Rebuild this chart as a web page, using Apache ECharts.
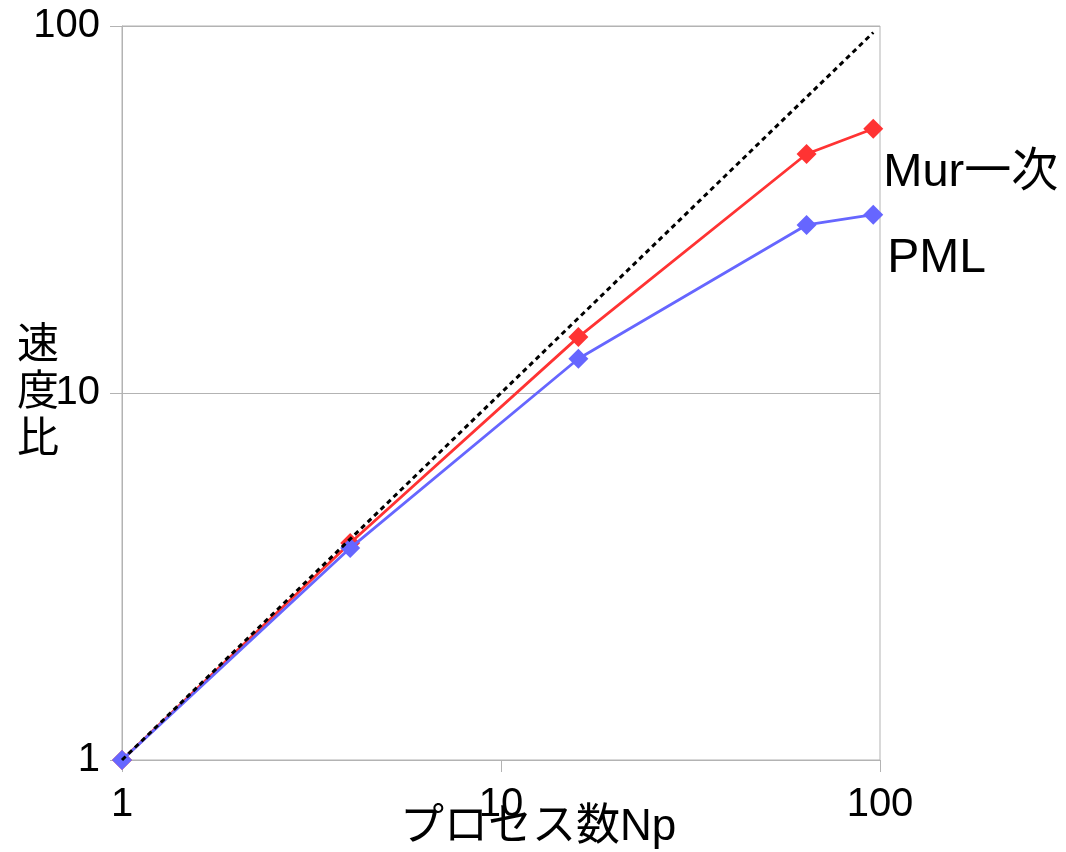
<!DOCTYPE html>
<html>
<head>
<meta charset="utf-8">
<script src="https://cdn.jsdelivr.net/npm/echarts@6/dist/echarts.min.js"></script>
<style>
  html, body { margin: 0; padding: 0; background: #fff; }
  #chart { width: 1066px; height: 852px; }
</style>
</head>
<body>
<div id="chart"></div>
<script>
// プロセス数と速度比
var procs = [1, 4, 16, 64, 96];
var murSpeedup = [1, 3.9, 14.2, 44.8, 52.5];
var pmlSpeedup = [1, 3.78, 12.4, 28.7, 30.6];
var idealX = [1, 96];
var idealY = [1, 96];

function pairs(xs, ys) {
    var out = [];
    xs.forEach(function (x, i) {
        out.push([x, ys[i]]);
    });
    return out;
}

var latin = '"Liberation Sans", Arial, sans-serif';
var cjk = '"Liberation Sans", "Noto Sans CJK JP", sans-serif';

var option = {
    animation: false,
    grid: {
        left: 122,
        right: 186,
        top: 26,
        bottom: 92,
        containLabel: false,
        outerBoundsMode: 'none',
        show: true,
        borderColor: '#b3b3b3',
        borderWidth: 1
    },
    xAxis: {
        type: 'log',
        logBase: 10,
        min: 1,
        max: 100,
        name: 'プロセス数Np',
        nameLocation: 'middle',
        nameMoveOverlap: false,
        nameGap: 46,
        nameTextStyle: {
            fontSize: 44,
            color: '#000',
            fontFamily: cjk,
            padding: [0, 0, 0, 74]
        },
        axisLine: {lineStyle: {color: '#b3b3b3'}},
        axisTick: {show: true, length: 12, lineStyle: {color: '#b3b3b3'}},
        axisLabel: {fontSize: 40, color: '#000', fontFamily: latin, margin: 25},
        splitLine: {show: false}
    },
    yAxis: {
        type: 'log',
        logBase: 10,
        min: 1,
        max: 100,
        name: '速\n度\n比',
        nameLocation: 'middle',
        nameMoveOverlap: false,
        nameRotate: 0,
        nameGap: 84,
        nameTextStyle: {
            fontSize: 42,
            lineHeight: 47,
            color: '#000',
            fontFamily: cjk,
            align: 'center',
            verticalAlign: 'middle',
            padding: [20, 0, 0, 0]
        },
        axisLine: {show: true, lineStyle: {color: '#b3b3b3'}},
        axisTick: {show: true, length: 12, lineStyle: {color: '#b3b3b3'}},
        axisLabel: {fontSize: 40, color: '#000', fontFamily: latin, margin: 22},
        splitLine: {show: true, lineStyle: {color: '#b3b3b3'}}
    },
    graphic: [],
    series: [
        {
            name: 'ideal',
            type: 'line',
            data: pairs(idealX, idealY),
            symbol: 'none',
            lineStyle: {color: '#000', width: 3, type: [5, 4]},
            z: 5
        },
        {
            name: 'Mur一次',
            type: 'line',
            data: pairs(procs, murSpeedup),
            symbol: 'diamond',
            symbolSize: 20,
            itemStyle: {color: '#ff3333'},
            lineStyle: {color: '#ff3333', width: 2.8},
            endLabel: {
                show: true,
                formatter: '{a}',
                fontSize: 47,
                color: '#000',
                fontFamily: cjk,
                offset: [4, 44],
                distance: 6
            },
            z: 3
        },
        {
            name: 'PML',
            type: 'line',
            data: pairs(procs, pmlSpeedup),
            symbol: 'diamond',
            symbolSize: 20,
            itemStyle: {color: '#6666ff'},
            lineStyle: {color: '#6666ff', width: 2.8},
            endLabel: {
                show: true,
                formatter: '{a}',
                fontSize: 48,
                color: '#000',
                fontFamily: latin,
                offset: [8, 44],
                distance: 6
            },
            z: 4
        }
    ]
};

var chart = echarts.init(document.getElementById('chart'));
chart.setOption(option);
</script>
</body>
</html>
